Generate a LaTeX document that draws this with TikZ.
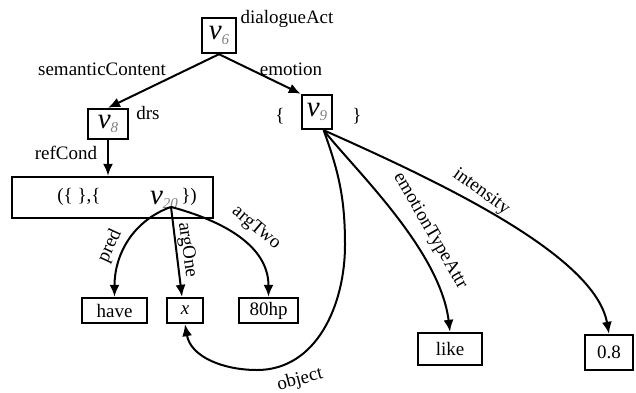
\documentclass[tikz,border=0pt]{standalone}
\usepackage{fontspec}
\setmainfont{Liberation Serif}
\usetikzlibrary{arrows.meta}

\newcommand{\vsym}[1]{{\fontsize{14.5}{15}\selectfont\itshape v}\raisebox{-0.5ex}{\fontsize{7.5}{8}\selectfont\itshape\color{gray}#1}}

\begin{document}
\begin{tikzpicture}[x=0.5pt, y=0.5pt, font=\fontsize{9.5}{11}\selectfont, >={Latex[length=6pt,width=5pt]}, line width=1pt]
	\tikzset{box/.style={draw, line width=1.2pt, inner sep=0pt, minimum height=12.5pt},
	  lbl/.style={inner sep=0pt}}
	\useasboundingbox (0,0) rectangle (636,-392);
	% feature nodes
	\node[box, minimum width=17pt, minimum height=17.5pt] (v6) at (219,-35.5) {\vsym{6}};
	\node[box, minimum width=20pt, minimum height=15pt] (v8) at (108,-124) {\vsym{8}};
	\node[box, minimum width=15pt, minimum height=17pt] (v9) at (317,-112) {\vsym{9}};
	\node[lbl] (lbrace) at (280,-116) {\{};
	\node[lbl] (rbrace) at (357,-116) {\}};
	\node[box, minimum width=100.5pt, minimum height=20.5pt] (bigbox) at (112.5,-197.5) {};
	\node[lbl] (lpart) at (79,-197) {(\{ \},\{};
	\node[lbl] (v20) at (164,-200) {\vsym{20}};
	\node[lbl] (rpart) at (189,-197) {\})};
	\coordinate (v20src) at ([xshift=3.5pt,yshift=1.5pt]v20.south);
	% leaf values
	\node[box, minimum width=32.5pt] (have) at (114.5,-310.5) {have};
	\node[box, minimum width=18pt] (xval) at (185,-310.5) {\itshape x};
	\node[box, minimum width=29.5pt] (hp) at (268.5,-310.5) {80hp};
	\node[box, minimum width=32pt, minimum height=16pt] (like) at (450,-349) {like};
	\node[box, minimum width=24pt, minimum height=17.5pt] (val08) at (609,-352.5) {0.8};
	% edges
	\draw[->] (v6.south) -- (v8.north);
	\draw[->] (v6.south) -- (v9.north west);
	\draw[->] (v8.south) -- (v8.south |- bigbox.north);
	\draw[->] (v20src) to[out=-160,in=90] (have.north);
	\draw[->] (v20src) -- ([xshift=-1.5pt]xval.north);
	\draw[->] (v20src) to[out=-15,in=90] (hp.north);
	\draw[->] (v9.-70) .. controls (355,-170) and (440,-250) .. (like.north);
	\draw[->] (v9.-70) .. controls (440,-182) and (595,-255) .. (val08.north);
	\coordinate (objbend) at (345,-245);
	\coordinate (objlow) at (257,-370);
	\draw[->] (v9.-70) to[out=-70,in=90] (objbend) to[out=-90,in=0] (objlow) to[out=180,in=-80] (xval.south);
	% edge labels
	\node[lbl] (ldialogue) at (287,-19) {dialogueAct};
	\node[lbl] (lsemantic) at (102,-69) {semanticContent};
	\node[lbl] (lemotion) at (291,-69) {emotion};
	\node[lbl] (ldrs) at (148,-113) {drs};
	\node[lbl] (lrefcond) at (66,-153) {refCond};
	\node[lbl, rotate=65] (lpred) at (110,-246) {pred};
	\node[lbl, rotate=-82] (largone) at (187,-250) {argOne};
	\node[lbl, rotate=-40] (largtwo) at (256,-228) {argTwo};
	\node[lbl, rotate=-60] (ltype) at (430,-231) {emotionTypeAttr};
	\node[lbl, rotate=-36] (lintensity) at (481,-192) {intensity};
	\node[lbl, rotate=15] (lobject) at (300,-380) {object};
\end{tikzpicture}
\end{document}
